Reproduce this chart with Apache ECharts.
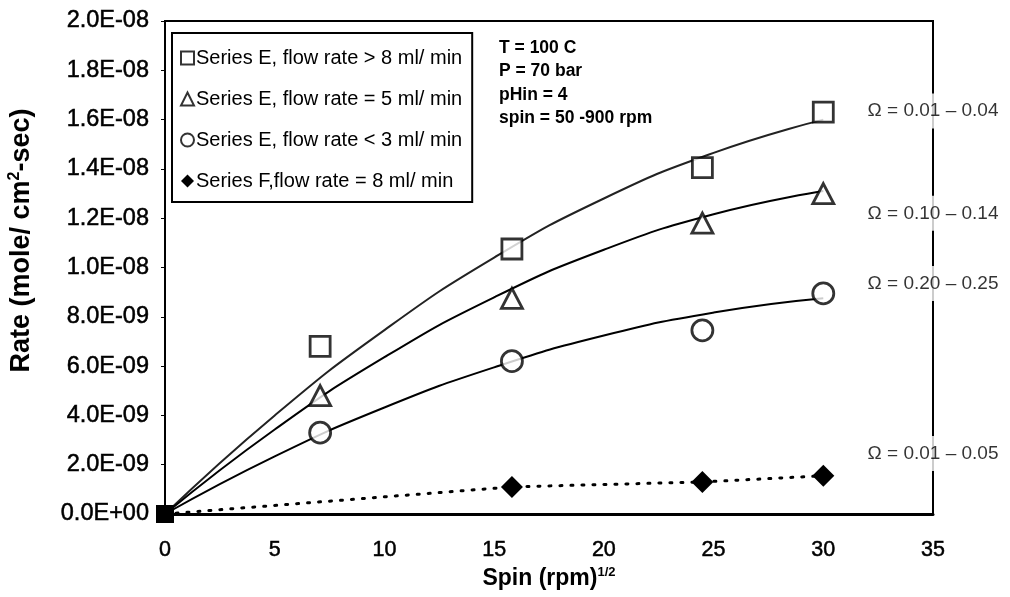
<!DOCTYPE html>
<html>
<head>
<meta charset="utf-8">
<script src="https://cdn.jsdelivr.net/npm/echarts@6/dist/echarts.min.js"></script>
<style>
html,body{margin:0;padding:0;background:#fff;}
#chart{width:1010px;height:597px;}
</style>
</head>
<body>
<div id="chart"></div>
<script>
// Values of rate are in units of 1e-9 mole/cm2-sec
const spinPoints = [7.07, 15.81, 24.49, 30];
const rateE_gt8 = [6.8, 10.75, 14.05, 16.3];
const rateE_eq5 = [4.8, 8.75, 11.8, 13.0];
const rateE_lt3 = [3.3, 6.2, 7.45, 8.95];
const spinF = [0, 15.81, 24.49, 30];
const rateF = [0, 1.1, 1.3, 1.55];

// Trend curves
const trendX = [0, 5, 10, 15, 20, 25, 30];
const trendE_gt8 = [0, 4.0, 7.46, 10.4, 12.8, 14.65, 16.0];
const trendE_eq5 = [0, 3.43, 6.36, 8.79, 10.72, 12.16, 13.1];
const trendE_lt3 = [0, 2.34, 4.32, 5.95, 7.24, 8.17, 8.75];

const legendNames = [
  'Series E, flow rate > 8 ml/ min',
  'Series E, flow rate = 5 ml/ min',
  'Series E, flow rate < 3 ml/ min',
  'Series F,flow rate = 8 ml/ min'
];
const omegaLabels = ['\u03A9 = 0.01 \u2013 0.04', '\u03A9 = 0.10 \u2013 0.14', '\u03A9 = 0.20 \u2013 0.25', '\u03A9 = 0.01 \u2013 0.05'];
const omegaY = [16.35, 12.2, 9.35, 2.45];
const conditions = ['T = 100 C', 'P = 70 bar', 'pHin = 4', 'spin = 50 -900 rpm'];
const yTickInterval = 2;

const zip = (xs, ys) => xs.map((x, i) => [x, ys[i]]);
const FONT = 'Liberation Sans, Arial, sans-serif';

function fmtExp(v) {
  const s = (v * 1e-9).toExponential(1).toUpperCase();
  const parts = s.split('E');
  let e = parts[1];
  const sign = e[0] === '-' ? '-' : '+';
  e = e.replace('-', '').replace('+', '');
  if (e.length < 2) e = '0' + e;
  return parts[0] + 'E' + sign + e;
}

const chart = echarts.init(document.getElementById('chart'), null, {renderer: 'canvas'});

const markerStyle = {color: '#fff', borderColor: '#000', borderWidth: 2.8};

const option = {
  backgroundColor: '#fff',
  animation: false,
  textStyle: {fontFamily: FONT, color: '#000'},
  title: {
    text: conditions.join('\n'),
    left: 494,
    top: 31,
    textStyle: {fontFamily: FONT, fontSize: 17.5, fontWeight: 'bold', color: '#000', lineHeight: 23.5}
  },
  legend: {
    orient: 'vertical',
    left: 172,
    top: 33,
    padding: [15, 10, 11, 8],
    itemGap: 21,
    itemWidth: 13,
    itemHeight: 13,
    borderColor: '#000',
    borderWidth: 2,
    backgroundColor: '#fff',
    data: legendNames.map((n, i) => i === 3 ? {name: n, icon: 'diamond'} : n),
    textStyle: {fontFamily: FONT, fontSize: 20, lineHeight: 20, color: '#000', padding: [0, 0, 0, -3]}
  },
  grid: {
    left: 165, right: 77, top: 21, bottom: 83,
    containLabel: false, outerBoundsMode: 'none',
    show: true, borderColor: '#000', borderWidth: 2, backgroundColor: 'transparent'
  },
  xAxis: {
    type: 'value', min: 0, max: 35, interval: 5,
    name: '{b|Spin (rpm)}{s|1/2}',
    nameLocation: 'middle', nameGap: 52,
    nameTextStyle: {rich: {
      b: {fontFamily: FONT, fontSize: 23, fontWeight: 'bold', color: '#000'},
      s: {fontFamily: FONT, fontSize: 13, fontWeight: 'bold', color: '#000', verticalAlign: 'top', padding: [0, 0, 12, 0]}
    }},
    axisLine: {lineStyle: {color: '#000', width: 3}},
    axisTick: {show: false},
    splitLine: {show: false},
    axisLabel: {margin: 25, fontFamily: FONT, fontSize: 21.5, color: '#000', textBorderColor: '#000', textBorderWidth: 0.5}
  },
  yAxis: {
    type: 'value', min: 0, max: 20, interval: yTickInterval,
    name: '{b|Rate (mole/ cm}{s|2}{b|-sec)}',
    nameLocation: 'middle', nameGap: 128, nameRotate: 90,
    nameTextStyle: {padding: [0, 0, 0, 54], rich: {
      b: {fontFamily: FONT, fontSize: 27, fontWeight: 'bold', color: '#000'},
      s: {fontFamily: FONT, fontSize: 16, fontWeight: 'bold', color: '#000', verticalAlign: 'top', padding: [0, 0, 14, 0]}
    }},
    axisLine: {show: true, lineStyle: {color: '#000', width: 2}},
    axisTick: {show: true, length: 4, lineStyle: {color: '#000', width: 1}},
    splitLine: {show: false},
    axisLabel: {margin: 16, formatter: fmtExp, fontFamily: FONT, fontSize: 23.5, color: '#000', textBorderColor: '#000', textBorderWidth: 0.5}
  },
  series: [
    {type: 'line', smooth: 0.5, symbol: 'none', data: zip(trendX, trendE_gt8), lineStyle: {color: '#222', width: 2}, z: 2, silent: true},
    {type: 'line', smooth: 0.5, symbol: 'none', data: zip(trendX, trendE_eq5), lineStyle: {color: '#000', width: 2}, z: 2, silent: true},
    {type: 'line', smooth: 0.5, symbol: 'none', data: zip(trendX, trendE_lt3), lineStyle: {color: '#000', width: 2}, z: 2, silent: true},
    {name: legendNames[0], type: 'scatter', symbol: 'rect', symbolSize: 20, data: zip(spinPoints, rateE_gt8), itemStyle: markerStyle, z: 5},
    {name: legendNames[1], type: 'scatter', symbol: 'triangle', symbolSize: [21, 20], data: zip(spinPoints, rateE_eq5), itemStyle: markerStyle, z: 5},
    {name: legendNames[2], type: 'scatter', symbol: 'circle', symbolSize: 21, data: zip(spinPoints, rateE_lt3), itemStyle: markerStyle, z: 5},
    {name: legendNames[3], type: 'line', symbol: 'diamond', symbolSize: 22,
      data: zip(spinF, rateF).map((p, i) => i === 0 ? {value: p, symbol: 'rect', symbolSize: 18} : p),
      itemStyle: {color: '#000', borderColor: '#000', borderWidth: 0},
      lineStyle: {color: '#000', width: 3, type: [2, 9], cap: 'round'}, z: 6},
    {type: 'scatter', symbolSize: 0, silent: true, z: 8,
      data: omegaY.map((y, i) => ({value: [35, y], label: {formatter: omegaLabels[i]}})),
      label: {show: true, position: 'inside', fontFamily: FONT, fontSize: 19, color: '#000',
        backgroundColor: '#fff', padding: [8, 3, 8, 3]}}
  ]
};
chart.setOption(option);
</script>
</body>
</html>
